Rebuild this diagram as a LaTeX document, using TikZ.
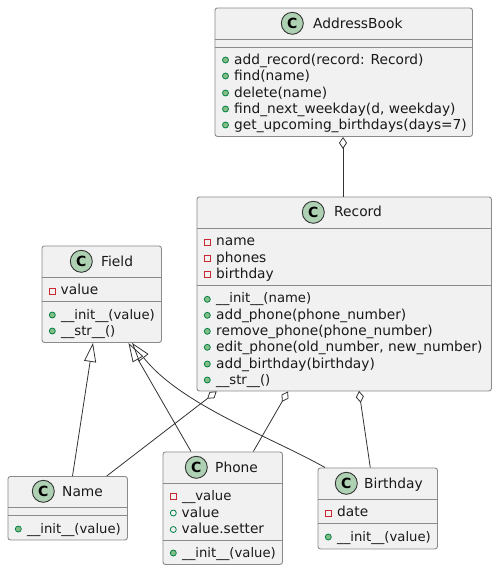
\documentclass[tikz,border=0pt]{standalone}
\usepackage{fontspec}
\setmainfont{DejaVu Sans}
\usetikzlibrary{arrows.meta}

\definecolor{boxgray}{HTML}{F1F1F1}
\definecolor{boxline}{HTML}{8A8A8A}
\definecolor{iconfill}{HTML}{ADD1B2}
\definecolor{pubfill}{HTML}{84BE84}
\definecolor{publine}{HTML}{038048}
\definecolor{priline}{HTML}{C82930}
\definecolor{linkline}{HTML}{333333}

\tikzset{
  classbox/.style={draw=boxline, fill=boxgray, line width=0.9pt, rounded corners=2.5pt, anchor=north west, inner sep=0pt},
  classname/.style={anchor=base west, inner sep=0pt, font=\fontsize{13.8}{16}\selectfont, text=black!90},
  classicon/.style={circle, draw=black!80, fill=iconfill, line width=0.9pt, minimum size=22pt, inner sep=0pt, font=\fontsize{14}{16}\bfseries\selectfont},
  member/.style={anchor=base west, inner sep=0pt, font=\fontsize{13.75}{16}\selectfont, text=black!90},
  membertight/.style={member, font=\fontsize{13.2}{16}\selectfont},
  divider/.style={draw=boxline, line width=0.9pt},
  pubmark/.style={draw=publine, fill=pubfill, line width=0.8pt},
  openmark/.style={draw=publine, fill=none, line width=0.8pt},
  primark/.style={draw=priline, fill=none, line width=0.8pt},
  aggr/.style={draw=linkline, line width=0.8pt, {Diamond[open, length=12pt, width=8pt]}-},
  inherit/.style={draw=linkline, line width=0.8pt, -{Triangle[open, length=19pt, width=12pt]}}
}

\begin{document}
\begin{tikzpicture}[x=1pt, y=-1pt]
\useasboundingbox (0,0) rectangle (496,570);

% boxes
\node[classbox, minimum width=257.5pt, minimum height=128.5pt] (AddressBook) at (214.5,7.5) {};
\node[classbox, minimum width=294.5pt, minimum height=194pt] (Record) at (196.5,196.5) {};
\node[classbox, minimum width=119.5pt, minimum height=96.5pt] (Field) at (41.5,245.5) {};
\node[classbox, minimum width=119.5pt, minimum height=63.5pt] (Name) at (7.5,476) {};
\node[classbox, minimum width=119.5pt, minimum height=112.5pt] (Phone) at (162.5,451.5) {};
\node[classbox, minimum width=119.5pt, minimum height=81pt] (Birthday) at (317.5,467.5) {};

% links
\draw[aggr] ([xshift=128.5pt]AddressBook.south west) -- ([xshift=146.5pt]Record.north west);
\draw[aggr] ([xshift=20.2pt]Record.south west) -- ([xshift=99.2pt]Name.north west);
\draw[aggr] ([xshift=91.5pt]Record.south west) -- ([xshift=90.8pt]Phone.north west);
\draw[aggr] ([xshift=162.5pt,yshift=0.5pt]Record.south west) -- ([xshift=52.8pt]Birthday.north west);
\draw[inherit] ([xshift=65pt]Name.north west) -- ([xshift=51.5pt]Field.south west);
\draw[inherit] ([xshift=28.5pt]Phone.north west) -- ([xshift=87pt]Field.south west);
\draw[inherit] ([xshift=7.5pt]Birthday.north west) .. controls (271,437) and (181,405) .. ([xshift=90.5pt]Field.south west);

% AddressBook
\draw[divider] (214.5,39.5) -- (472,39.5);
\draw[divider] (214.5,47.5) -- (472,47.5);
\node[classicon] (abicon) at (292.3,23.3) {C};
\node[classname] (abname) at (313,28.5) {AddressBook};
\filldraw[pubmark] (225.5,60) circle (3);
\node[member] (ab1) at (234,64.5) {add\_record(record: Record)};
\filldraw[pubmark] (225.5,76) circle (3);
\node[member] (ab2) at (234,80.5) {find(name)};
\filldraw[pubmark] (225.5,93) circle (3);
\node[member] (ab3) at (234,97) {delete(name)};
\filldraw[pubmark] (225.5,109) circle (3);
\node[member] (ab4) at (234,113.5) {find\_next\_weekday(d, weekday)};
\filldraw[pubmark] (225.5,125) circle (3);
\node[member] (ab5) at (234,129.5) {get\_upcoming\_birthdays(days=7)};

% Record
\draw[divider] (196.5,228.7) -- (491,228.7);
\draw[divider] (196.5,285.7) -- (491,285.7);
\node[classicon] (recicon) at (313.3,212.3) {C};
\node[classname] (recname) at (334,216.7) {Record};
\draw[primark] (204.3,239) rectangle +(6,6);
\node[member] (rec1) at (216,245) {name};
\draw[primark] (204.3,255) rectangle +(6,6);
\node[member] (rec2) at (216,262) {phones};
\draw[primark] (204.3,271) rectangle +(6,6);
\node[member] (rec3) at (216,278) {birthday};
\filldraw[pubmark] (207.3,299.3) circle (3);
\node[membertight] (rec4) at (216,302.5) {\_\_init\_\_(name)};
\filldraw[pubmark] (207.3,315.3) circle (3);
\node[member] (rec5) at (216,319.5) {add\_phone(phone\_number)};
\filldraw[pubmark] (207.3,331.3) circle (3);
\node[member] (rec6) at (216,335.5) {remove\_phone(phone\_number)};
\filldraw[pubmark] (207.3,347.3) circle (3);
\node[member] (rec7) at (216,351.5) {edit\_phone(old\_number, new\_number)};
\filldraw[pubmark] (207.3,364) circle (3);
\node[member] (rec8) at (216,368) {add\_birthday(birthday)};
\filldraw[pubmark] (207.3,380) circle (3);
\node[membertight] (rec9) at (216,384) {\_\_str\_\_()};

% Field
\draw[divider] (41.5,277.5) -- (161,277.5);
\draw[divider] (41.5,301) -- (161,301);
\node[classicon] (fieldicon) at (81.3,261.3) {C};
\node[classname] (fieldname) at (101,266) {Field};
\draw[primark] (49.5,288.3) rectangle +(6,6);
\node[member] (field1) at (60.5,294.5) {value};
\filldraw[pubmark] (52.3,315) circle (3);
\node[membertight] (field2) at (61,319) {\_\_init\_\_(value)};
\filldraw[pubmark] (52.3,331) circle (3);
\node[membertight] (field3) at (61,335.5) {\_\_str\_\_()};

% Name
\draw[divider] (7.5,507) -- (127,507);
\draw[divider] (7.5,515) -- (127,515);
\node[classicon] (nameicon) at (43.3,491.3) {C};
\node[classname] (namename) at (62,496) {Name};
\filldraw[pubmark] (18.3,529) circle (3);
\node[membertight] (name1) at (27,533.5) {\_\_init\_\_(value)};

% Phone
\draw[divider] (162.5,483.5) -- (282,483.5);
\draw[divider] (162.5,540) -- (282,540);
\node[classicon] (phoneicon) at (196.3,467.3) {C};
\node[classname] (phonename) at (215,472) {Phone};
\draw[primark] (170.3,493.3) rectangle +(6,6);
\node[membertight] (phone1) at (182,500.5) {\_\_value};
\draw[openmark] (173.3,513) circle (3);
\node[member] (phone2) at (181.5,517) {value};
\draw[openmark] (173.3,529.5) circle (3);
\node[member] (phone3) at (181.5,533.5) {value.setter};
\filldraw[pubmark] (173.3,553) circle (3);
\node[membertight] (phone4) at (182,557.5) {\_\_init\_\_(value)};

% Birthday
\draw[divider] (317.5,499.5) -- (437,499.5);
\draw[divider] (317.5,523.5) -- (437,523.5);
\node[classicon] (bdayicon) at (346.3,483.3) {C};
\node[classname] (bdayname) at (364,488) {Birthday};
\draw[primark] (325.3,510.3) rectangle +(6,6);
\node[member] (bday1) at (337,516.5) {date};
\filldraw[pubmark] (328.3,537) circle (3);
\node[membertight] (bday2) at (337,541.5) {\_\_init\_\_(value)};

\end{tikzpicture}
\end{document}
